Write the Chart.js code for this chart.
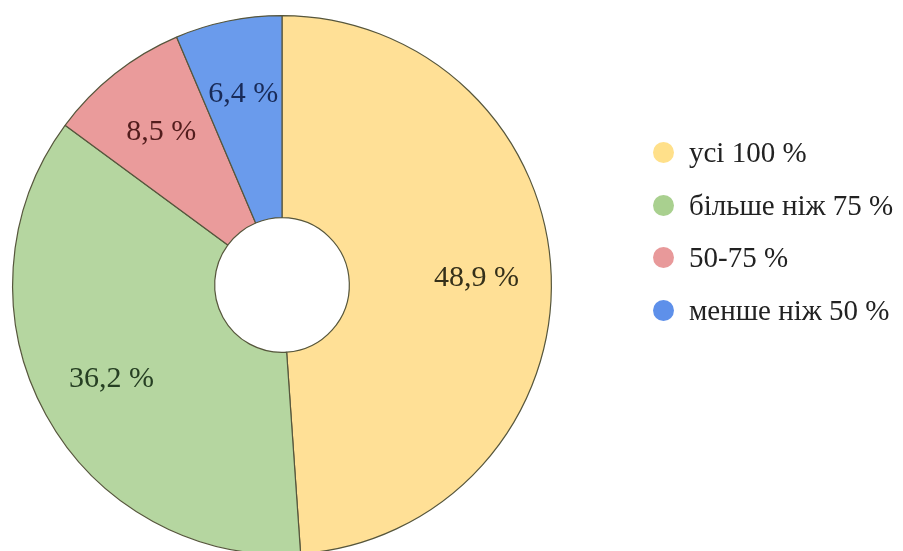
<!DOCTYPE html>
<html>
<head>
<meta charset="utf-8">
<script src="https://cdn.jsdelivr.net/npm/chart.js@4/dist/chart.umd.min.js"></script>
<style>
  html, body { margin:0; padding:0; background:#fff; width:903px; height:551px; overflow:hidden; }
  #wrap { position:absolute; left:0; top:0; width:903px; height:572px; }
  #legend { position:absolute; left:653px; top:126px; font-family:"Liberation Serif","Times New Roman",serif; font-size:29px; color:#222; }
  #legend .item { height:52.7px; display:flex; align-items:center; white-space:nowrap; }
  #legend .dot { width:21px; height:21px; border-radius:50%; margin-right:15px; }
</style>
</head>
<body>
<div id="wrap"><canvas id="c" width="903" height="572"></canvas></div>
<div id="legend"></div>
<script>
const categories = ["усі 100 %", "більше ніж 75 %", "50-75 %", "менше ніж 50 %"];
const values = [48.9, 36.2, 8.5, 6.4];
const valueLabels = ["48,9 %", "36,2 %", "8,5 %", "6,4 %"];
const sliceColors = ["#FFE096", "#B5D6A0", "#EA9B9B", "#6A9BEC"];
const labelColors = ["#35301a", "#263f23", "#521d1d", "#192b58"];
const legendColors = ["#FFE08A", "#A9D08F", "#E8999A", "#5E90EA"];

const labelPlugin = {
  id: 'sliceLabels',
  afterDatasetsDraw(chart) {
    const ctx = chart.ctx;
    const meta = chart.getDatasetMeta(0);
    ctx.save();
    ctx.font = '30px "Liberation Serif", "Times New Roman", serif';
    ctx.textAlign = 'center';
    ctx.textBaseline = 'middle';
    meta.data.forEach((arc, i) => {
      const p = arc.getProps(['x','y','startAngle','endAngle','innerRadius','outerRadius'], true);
      const a = (p.startAngle + p.endAngle) / 2;
      const r = p.innerRadius + 0.63 * (p.outerRadius - p.innerRadius);
      ctx.fillStyle = labelColors[i];
      ctx.fillText(valueLabels[i], p.x + Math.cos(a) * r, p.y + Math.sin(a) * r);
    });
    ctx.restore();
  }
};

new Chart(document.getElementById('c'), {
  type: 'doughnut',
  data: {
    labels: categories,
    datasets: [{
      data: values,
      backgroundColor: sliceColors,
      borderColor: '#56563c',
      borderWidth: 1.2,
      hoverOffset: 0
    }]
  },
  options: {
    responsive: false,
    animation: false,
    cutout: '25%',
    layout: { padding: { left: 12, right: 351, top: 15, bottom: 17 } },
    plugins: { legend: { display: false }, tooltip: { enabled: false } },
    events: []
  },
  plugins: [labelPlugin]
});

const leg = document.getElementById('legend');
categories.forEach((c, i) => {
  const it = document.createElement('div');
  it.className = 'item';
  const d = document.createElement('span');
  d.className = 'dot';
  d.style.background = legendColors[i];
  const t = document.createElement('span');
  t.textContent = c;
  it.appendChild(d); it.appendChild(t);
  leg.appendChild(it);
});
</script>
</body>
</html>
